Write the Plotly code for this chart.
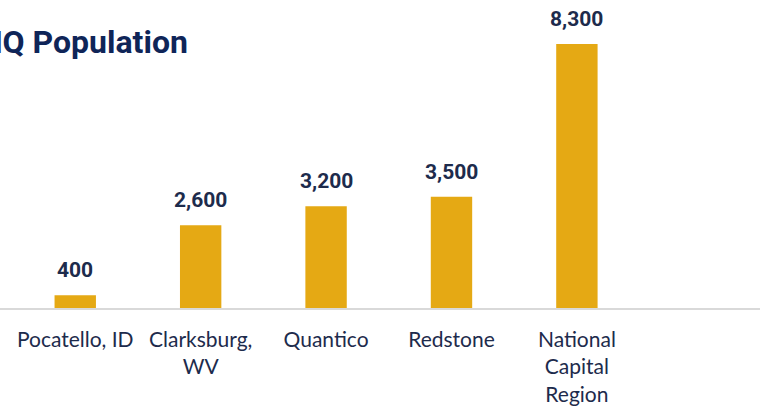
import plotly.graph_objects as go

categories = ["Pocatello, ID", "Clarksburg,<br>WV", "Quantico", "Redstone", "National<br>Capital<br>Region"]
values = [400, 2600, 3200, 3500, 8300]
value_labels = ["400", "2,600", "3,200", "3,500", "8,300"]
title_text = "HQ Population"

BAR = "#E5A914"
NAVY = "#1D2B4C"
TITLE = "#0F2558"
COND = "Roboto, sans-serif"

fig = go.Figure()
fig.add_trace(go.Bar(
    x=categories, y=values, width=0.33,
    marker=dict(color=BAR, line=dict(width=0)),
    hoverinfo="skip",
))

for c, v, t in zip(categories, values, value_labels):
    fig.add_annotation(
        x=c, y=v, xref="x", yref="y", text=t, showarrow=False,
        yanchor="bottom", yshift=11,
        font=dict(family=COND, size=21, color=NAVY, weight="bold"),
    )

fig.add_annotation(
    x=190 / 760, y=(411 - 103 - 42) / (411 - 20 - 103), xref="paper", yref="paper",
    text=title_text, showarrow=False, xanchor="right", yanchor="middle",
    font=dict(family=COND, size=32, color=TITLE, weight="bold"),
)

fig.update_layout(
    width=760, height=411,
    margin=dict(l=0, r=0, t=20, b=103),
    paper_bgcolor="white", plot_bgcolor="white",
    showlegend=False,
    xaxis=dict(
        type="category", range=[-0.6, 5.46], automargin=False,
        showline=True, linecolor="#D9D9D9", linewidth=1.5,
        showgrid=False, zeroline=False, ticks="",
        ticklabelstandoff=12,
        tickfont=dict(family="Lato", size=21, color=NAVY),
    ),
    yaxis=dict(range=[0, 9057], visible=False, showgrid=False, zeroline=False, automargin=False),
)

fig.write_html("out.html", config={"displayModeBar": False},
               post_script="document.body.style.margin='0';")
